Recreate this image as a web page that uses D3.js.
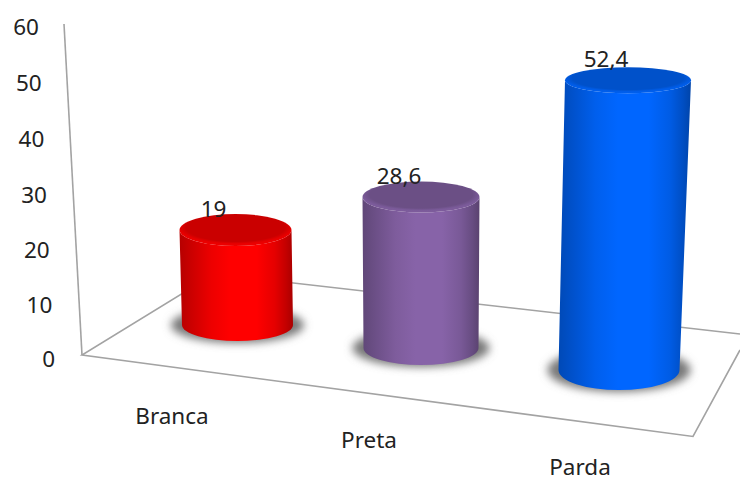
<!DOCTYPE html>
<html>
<head>
<meta charset="utf-8">
<script src="https://cdn.jsdelivr.net/npm/d3@7"></script>
<style>
  html, body { margin: 0; padding: 0; background: #fff; }
  svg { display: block; }
  text { font-family: "Noto Sans", sans-serif; font-size: 22.5px; fill: #222; }
</style>
</head>
<body>
<div id="chart"></div>
<script>
// Data
const categories = ["Branca", "Preta", "Parda"];
const values = [19, 28.6, 52.4];
const yTicks = [0, 10, 20, 30, 40, 50, 60];
const colors = ["#ff0000", "#8763a8", "#0066ff"];

// Fake 3d layout, every column sits deeper or closer in the perspective
const width = 740;
const height = 482;
const byCategory = (range) => d3.scaleOrdinal().domain(categories).range(range);

const baseX = byCategory([237.5, 421, 619]);
const topX = byCategory([235.5, 421, 628]);
const baseY = byCategory([325, 348, 370]);
const baseWidth = byCategory([111, 115, 121]);
const topWidth = byCategory([112, 117, 126]);
const baseRy = byCategory([16, 17, 20]);
const topRy = byCategory([16, 15.5, 13]);
const pxPerUnit = byCategory([5, 5.28, 5.53]);
const categoryX = byCategory([172, 369, 580]);
const categoryY = byCategory([424, 448, 475]);

const fmt = d3.formatLocale({ decimal: ",", thousands: ".", grouping: [3], currency: ["", ""] }).format(".3~r");

const data = categories.map((c, i) => ({ category: c, value: values[i], color: colors[i], id: i }));
const topY = (d) => baseY(d.category) - d.value * pxPerUnit(d.category);

const svg = d3.select("#chart").append("svg")
  .attr("width", width)
  .attr("height", height);

const defs = svg.append("defs");
defs.append("filter").attr("id", "shadowBlur")
  .attr("x", "-30%").attr("y", "-60%").attr("width", "160%").attr("height", "220%")
  .append("feGaussianBlur").attr("stdDeviation", 4.5);

// Side shading of the cylinders
const stops = [
  { offset: "0%", k: 0.95 },
  { offset: "12%", k: 0.6 },
  { offset: "28%", k: 0.2 },
  { offset: "45%", k: 0 },
  { offset: "68%", k: 0 },
  { offset: "84%", k: 0.3 },
  { offset: "94%", k: 0.75 },
  { offset: "100%", k: 1.15 },
];
// Lid shading, dark disc with a lighter crescent along the front
const lidStops = [
  { offset: "0%", k: 0.65 },
  { offset: "76%", k: 0.65 },
  { offset: "88%", k: 0.25 },
  { offset: "100%", k: 0.2 },
];
data.forEach((d) => {
  defs.append("linearGradient").attr("id", `side${d.id}`)
    .selectAll("stop")
    .data(stops)
    .join("stop")
      .attr("offset", (s) => s.offset)
      .attr("stop-color", (s) => d3.color(d.color).darker(s.k).formatHex());

  defs.append("radialGradient").attr("id", `lid${d.id}`)
    .attr("cx", 0.5).attr("cy", 0.42).attr("r", 0.58)
    .selectAll("stop")
    .data(lidStops)
    .join("stop")
      .attr("offset", (s) => s.offset)
      .attr("stop-color", (s) => d3.color(d.color).darker(s.k).formatHex());
});

// Floor
const yAxisX = d3.scaleLinear().domain([0, 60]).range([82, 64]);
const yAxisY = d3.scaleLinear().domain([0, 60]).range([355, 24]);
const floorPoints = [[740, 334], [214, 274], [yAxisX(0), yAxisY(0)], [693, 436.5], [740, 350]];
const wallLine = d3.line();

svg.append("path")
  .attr("d", wallLine(floorPoints))
  .attr("fill", "none")
  .attr("stroke", "#a3a3a3")
  .attr("stroke-width", 1.6);

svg.append("path")
  .attr("d", wallLine(yTicks.filter((t) => t === 0 || t === 60).map((t) => [yAxisX(t), yAxisY(t)])))
  .attr("fill", "none")
  .attr("stroke", "#a3a3a3")
  .attr("stroke-width", 1.6);

// Value axis, labels follow the tilt of the wall
const yScale = d3.scalePow().exponent(1.02).domain([0, 60]).range([359, 27]);
const labelRight = d3.scaleLinear().domain([0, 60]).range([55, 39]);
const yAxis = d3.axisLeft(yScale).tickValues(yTicks).tickSize(0).tickFormat(d3.format("d"));

const axisG = svg.append("g").call(yAxis);
axisG.select(".domain").remove();
axisG.attr("font-size", null).attr("font-family", null);
axisG.selectAll(".tick text")
  .attr("x", (t) => labelRight(t))
  .attr("fill", null);

// Columns
const columns = svg.selectAll(".column")
  .data(data)
  .join("g")
    .attr("class", "column");

columns.append("ellipse")
  .attr("cx", (d) => baseX(d.category))
  .attr("cy", (d) => baseY(d.category))
  .attr("rx", (d) => baseWidth(d.category) / 2 + 11)
  .attr("ry", (d) => baseRy(d.category) + 2)
  .attr("fill", "#787878")
  .attr("filter", "url(#shadowBlur)");

columns.append("path")
  .attr("d", (d) => {
    const c = d.category;
    const lb = baseX(c) - baseWidth(c) / 2;
    const rb = baseX(c) + baseWidth(c) / 2;
    const lt = topX(c) - topWidth(c) / 2;
    const rt = topX(c) + topWidth(c) / 2;
    return `M${lt},${topY(d)} L${lb},${baseY(c)} `
      + `A${baseWidth(c) / 2},${baseRy(c)} 0 0 0 ${rb},${baseY(c)} `
      + `L${rt},${topY(d)} A${topWidth(c) / 2},${topRy(c)} 0 0 1 ${lt},${topY(d)} Z`;
  })
  .attr("fill", (d) => `url(#side${d.id})`);

columns.append("ellipse")
  .attr("cx", (d) => topX(d.category))
  .attr("cy", (d) => topY(d))
  .attr("rx", (d) => topWidth(d.category) / 2)
  .attr("ry", (d) => topRy(d.category))
  .attr("fill", (d) => `url(#lid${d.id})`);

// Data labels
svg.selectAll(".value-label")
  .data(data)
  .join("text")
    .attr("class", "value-label")
    .attr("x", (d) => topX(d.category) - 22)
    .attr("y", (d) => topY(d) - 13)
    .attr("text-anchor", "middle")
    .text((d) => fmt(d.value));

// Category labels
svg.selectAll(".category-label")
  .data(categories)
  .join("text")
    .attr("class", "category-label")
    .attr("x", (c) => categoryX(c))
    .attr("y", (c) => categoryY(c))
    .attr("text-anchor", "middle")
    .text((c) => c);
</script>
</body>
</html>
